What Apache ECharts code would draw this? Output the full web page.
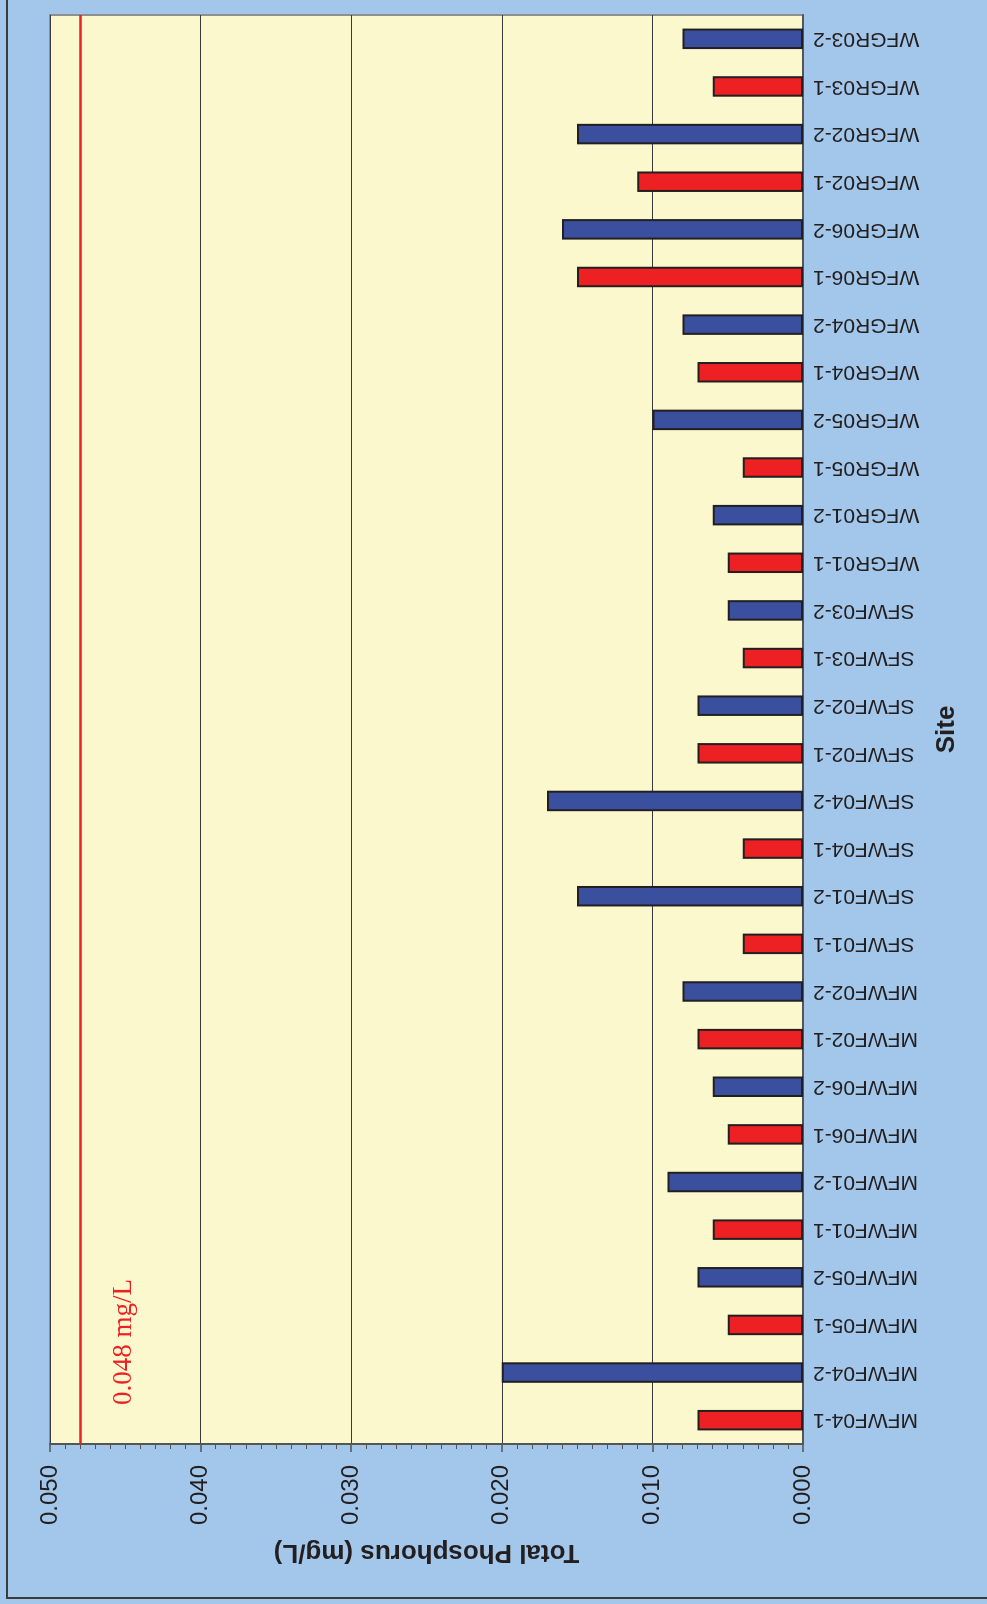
<!DOCTYPE html>
<html>
<head>
<meta charset="utf-8">
<script src="https://cdn.jsdelivr.net/npm/echarts@6/dist/echarts.min.js"></script>
<style>
html, body { margin: 0; padding: 0; width: 987px; height: 1604px; overflow: hidden; background: #a2c7ea; }
/* the chart is drawn as a normal column chart and turned a quarter turn */
#wrap {
  position: absolute; left: 0; top: 0; width: 1604px; height: 987px;
  transform-origin: 0 0; transform: translateY(1604px) rotate(-90deg);
  background: #a2c7ea;
}
#frame {
  position: absolute; left: 5px; top: 6px; right: -10px; bottom: -10px;
  border-left: 2px solid #3c3c3c; border-top: 2px solid #3c3c3c;
}
#main { position: absolute; left: 0; top: 0; width: 1604px; height: 987px; }
</style>
</head>
<body>
<div id="wrap">
  <div id="frame"></div>
  <div id="main"></div>
</div>
<script>
var sites = ["MFWF04-1","MFWF04-2","MFWF05-1","MFWF05-2","MFWF01-1","MFWF01-2","MFWF06-1","MFWF06-2","MFWF02-1","MFWF02-2",
  "SFWF01-1","SFWF01-2","SFWF04-1","SFWF04-2","SFWF02-1","SFWF02-2","SFWF03-1","SFWF03-2",
  "WFGR01-1","WFGR01-2","WFGR05-1","WFGR05-2","WFGR04-1","WFGR04-2","WFGR06-1","WFGR06-2","WFGR02-1","WFGR02-2","WFGR03-1","WFGR03-2"];
var phosphorus = [0.007,0.020,0.005,0.007,0.006,0.009,0.005,0.006,0.007,0.008,
  0.004,0.015,0.004,0.017,0.007,0.007,0.004,0.005,
  0.005,0.006,0.004,0.010,0.007,0.008,0.015,0.016,0.011,0.015,0.006,0.008];
var limitValue = 0.048;
var limitLabel = "0.048 mg/L";

var myChart = echarts.init(document.getElementById("main"));
myChart.setOption({
  animation: false,
  grid: {
    left: 160,
    right: 15,
    top: 50,
    bottom: 184,
    show: true,
    backgroundColor: "#fcf8ce",
    borderColor: "#8f8f8f",
    borderWidth: 2
  },
  xAxis: {
    type: "category",
    data: sites,
    name: "Site",
    nameLocation: "middle",
    nameGap: 131,
    nameTextStyle: { fontFamily: "Liberation Sans, Arial", fontWeight: "bold", fontSize: 26, color: "#231f20" },
    axisLine: { lineStyle: { color: "#555", width: 2 } },
    axisTick: { length: 6, lineStyle: { color: "#555", width: 1.5 } },
    axisLabel: {
      rotate: 90,
      margin: 10,
      fontFamily: "Liberation Sans, Arial",
      fontSize: 21,
      color: "#231f20"
    }
  },
  yAxis: {
    type: "value",
    min: 0,
    max: 0.05,
    interval: 0.01,
    name: "Total Phosphorus (mg/L)",
    nameLocation: "middle",
    nameGap: 95,
    nameTextStyle: { fontFamily: "Liberation Sans, Arial", fontWeight: "bold", fontSize: 26, color: "#231f20" },
    axisLine: { show: true, lineStyle: { color: "#555", width: 2 } },
    axisTick: { show: true, length: 8, lineStyle: { color: "#555", width: 1.5 } },
    minorTick: { show: true, splitNumber: 10, length: 5, lineStyle: { color: "#555", width: 1 } },
    splitLine: { show: true, lineStyle: { color: "#3a3a3a", width: 1.2 } },
    axisLabel: {
      margin: 21,
      fontFamily: "Liberation Sans, Arial",
      fontSize: 24,
      color: "#231f20",
      formatter: function (v) { return v.toFixed(3); }
    }
  },
  series: [
    {
      name: "Total Phosphorus",
      type: "bar",
      data: phosphorus,
      barWidth: "43%",
      itemStyle: {
        borderColor: "#231f20",
        borderWidth: 2,
        color: function (p) {
          return /-1$/.test(sites[p.dataIndex]) ? "#ed2024" : "#3a509f";
        }
      },
      markLine: {
        silent: true,
        precision: 3,
        symbol: ["none", "none"],
        lineStyle: { color: "#ed2024", width: 2.5, type: "solid" },
        label: {
          show: true,
          position: "insideStartBottom",
          distance: [39, 30],
          formatter: limitLabel,
          fontFamily: "Liberation Serif, Times New Roman",
          fontSize: 27,
          color: "#ed2024"
        },
        data: [{ yAxis: limitValue }]
      }
    }
  ]
});
</script>
</body>
</html>
